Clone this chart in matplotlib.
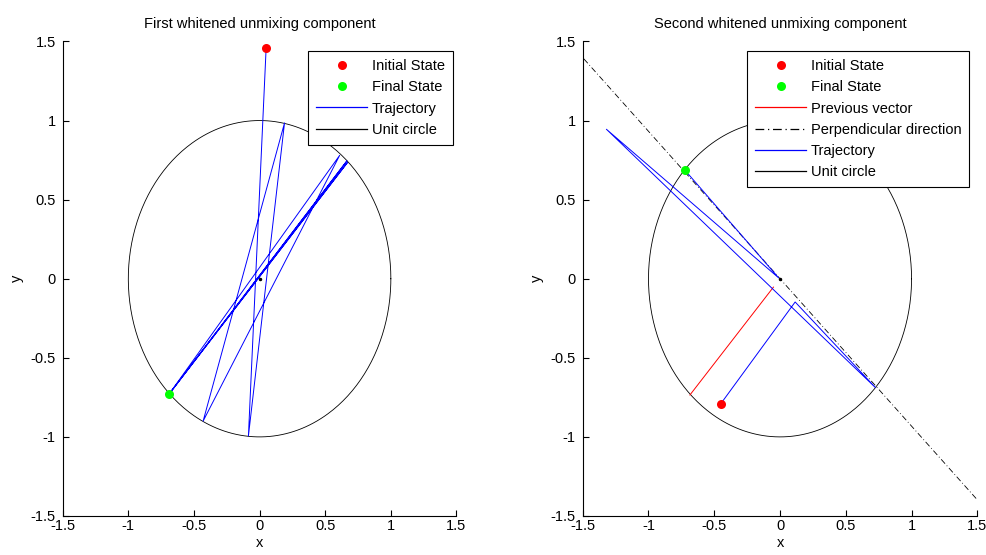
# -*- coding: utf-8 -*-
"""
Whitened unmixing components: iteration trajectories on the unit circle
"""

import numpy as np
import matplotlib.pyplot as plt
from matplotlib.lines import Line2D

# First component trajectory
traj1_x = [0.05, -0.085, 0.19, -0.43, 0.61, -0.69, 0.67, -0.69, 0.665, -0.69]
traj1_y = [1.46, -0.994, 0.985, -0.90, 0.78, -0.73, 0.735, -0.73, 0.745, -0.73]

# Second component trajectory (with deflation)
traj2_x = [-0.45, 0.115, 0.725, -1.32, -0.01, -0.725]
traj2_y = [-0.79, -0.147, -0.688, 0.945, 0.005, 0.688]

# Previous (first) vector, drawn from the circle towards the origin
prev_x = [-0.685, -0.05]
prev_y = [-0.735, -0.053]

ticks = [-1.5, -1, -0.5, 0, 0.5, 1, 1.5]
tick_labels = ['-1.5', '-1', '-0.5', '0', '0.5', '1', '1.5']

plt.rcParams['font.family'] = ['Liberation Sans', 'DejaVu Sans']
plt.rcParams['font.size'] = 10.5

DASHDOT = (0, (7, 3, 1, 3))


def style_axes(ax, title):
    ax.set_xlim(-1.5, 1.5)
    ax.set_ylim(-1.5, 1.5)
    ax.set_xticks(ticks, tick_labels)
    ax.set_yticks(ticks, tick_labels)
    ax.spines['top'].set_visible(False)
    ax.spines['right'].set_visible(False)
    for s in ['left', 'bottom']:
        ax.spines[s].set_linewidth(0.8)
    ax.tick_params(direction='in', length=4, width=0.8, colors='black')
    ax.tick_params(axis='x', pad=2)
    ax.tick_params(axis='y', pad=5)
    ax.set_xlabel('x', labelpad=2)
    ax.set_ylabel('y', labelpad=5)
    ax.set_title(title, fontsize=10.5, pad=10)


def unit_circle(ax):
    theta = np.linspace(0, 2 * np.pi, 400)
    ax.plot(np.cos(theta), np.sin(theta), color='black', linewidth=0.6, zorder=2)


def legend_handles(entries):
    handles = []
    for kind, color, ls in entries:
        if kind == 'dot':
            handles.append(Line2D([], [], linestyle='none', marker='o', color=color,
                                  markersize=6.5, markeredgewidth=0))
        else:
            handles.append(Line2D([], [], color=color, linestyle=ls, linewidth=0.9))
    return handles


def add_legend(ax, handles, labels, anchor):
    leg = ax.legend(handles, labels, loc='upper right', bbox_to_anchor=anchor,
                    handlelength=3.5, frameon=True, fancybox=False, edgecolor='black',
                    framealpha=1, borderpad=0.55, labelspacing=0.5, handletextpad=0.3,
                    borderaxespad=0)
    leg.get_frame().set_linewidth(0.8)
    return leg


fig = plt.figure(figsize=(9.87, 5.55), dpi=100)
ax1 = fig.add_axes([0.0635, 0.0703, 0.399, 0.855])
ax2 = fig.add_axes([0.5904, 0.0703, 0.3998, 0.855])

# Left: first component
ax1.plot(traj1_x, traj1_y, color='blue', linewidth=0.7, zorder=3)
unit_circle(ax1)
ax1.plot(traj1_x[0], traj1_y[0], 'o', color='red', markersize=6.5, markeredgewidth=0, zorder=5)
ax1.plot(traj1_x[-1], traj1_y[-1], 'o', color='#00ff00', markersize=6.5, markeredgewidth=0, zorder=5)
ax1.plot(0, 0, '.', color='black', markersize=3, zorder=4)
style_axes(ax1, 'First whitened unmixing component')

labels1 = ['Initial State', 'Final State', 'Trajectory', 'Unit circle']
handles1 = legend_handles([('dot', 'red', None), ('dot', '#00ff00', None),
                           ('line', 'blue', '-'), ('line', 'black', '-')])
add_legend(ax1, handles1, labels1, (0.99, 0.98))

# Right: second component
pvec = np.array([prev_x[0], prev_y[0]])
perp = np.array([-pvec[1], pvec[0]]) / np.linalg.norm(pvec)
t = np.array([-2.2, 2.2])
ax2.plot(t * perp[0], t * perp[1], color='black', linewidth=0.6,
         linestyle=DASHDOT, zorder=2)
ax2.plot(prev_x, prev_y, color='red', linewidth=0.7, zorder=3)
ax2.plot(traj2_x, traj2_y, color='blue', linewidth=0.7, zorder=3)
unit_circle(ax2)
ax2.plot(traj2_x[0], traj2_y[0], 'o', color='red', markersize=6.5, markeredgewidth=0, zorder=5)
ax2.plot(traj2_x[-1], traj2_y[-1], 'o', color='#00ff00', markersize=6.5, markeredgewidth=0, zorder=5)
ax2.plot(0, 0, '.', color='black', markersize=3, zorder=4)
style_axes(ax2, 'Second whitened unmixing component')

labels2 = ['Initial State', 'Final State', 'Previous vector', 'Perpendicular direction',
           'Trajectory', 'Unit circle']
handles2 = legend_handles([('dot', 'red', None), ('dot', '#00ff00', None),
                           ('line', 'red', '-'), ('line', 'black', DASHDOT),
                           ('line', 'blue', '-'), ('line', 'black', '-')])
add_legend(ax2, handles2, labels2, (0.98, 0.98))

plt.savefig('out.png', dpi=100)
plt.close()
